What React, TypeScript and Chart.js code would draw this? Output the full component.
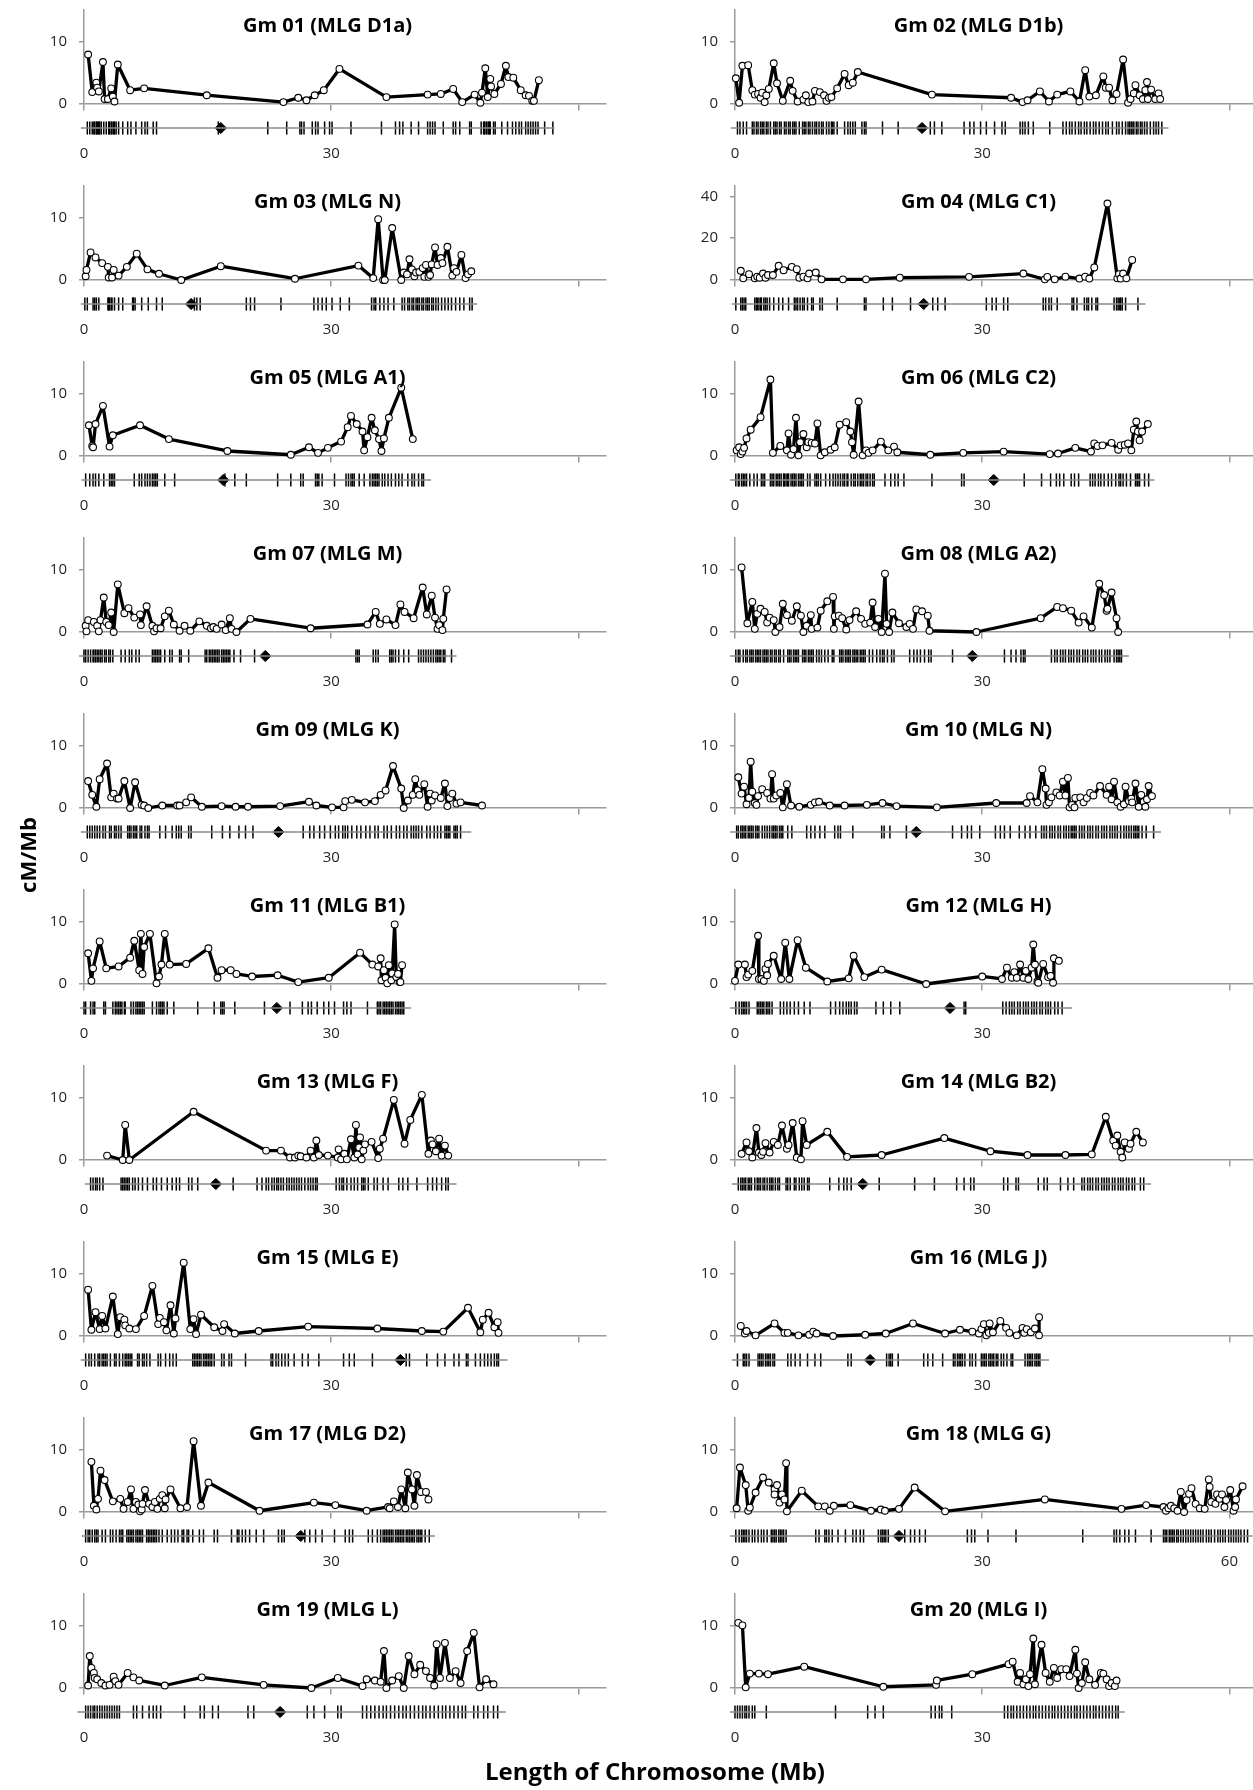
import React, { useEffect, useRef } from 'react';
import { Chart, registerables } from 'chart.js';

Chart.register(...registerables);

// ---------- shared axis values ----------
const X_MAX = 63.3;
const X_TICKS = [0, 30, 60];

// ---------- data: [position (Mb), recombination rate (cM/Mb)] and marker positions (Mb) ----------
const gm01Points = [[0.5,7.9],[1.0,1.9],[1.5,3.4],[1.6,2.6],[1.8,2.0],[2.3,6.7],[2.5,0.8],[2.9,0.8],[3.3,2.5],[3.5,1.2],[3.7,0.4],[4.1,6.3],[5.6,2.2],[7.3,2.5],[14.9,1.4],[24.2,0.3],[26.0,1.0],[27.0,0.6],[28.0,1.4],[29.1,2.2],[31.0,5.6],[36.7,1.1],[41.7,1.5],[43.3,1.6],[44.8,2.4],[45.9,0.3],[47.4,1.5],[48.1,0.2],[48.3,1.8],[48.7,5.7],[49.0,1.1],[49.3,4.0],[49.4,2.8],[49.8,1.6],[50.6,3.2],[51.2,6.1],[51.5,4.3],[52.1,4.2],[53.0,2.2],[53.6,1.4],[54.0,1.3],[54.4,0.5],[54.6,0.5],[55.2,3.8]];
const gm01Markers = [0.4,0.7,1.0,1.2,1.3,1.5,1.6,1.7,1.8,1.9,2.1,2.4,2.7,3.0,3.1,3.3,3.4,3.6,3.7,3.9,4.2,4.7,5.3,5.7,6.3,7.0,7.4,7.7,8.4,8.8,16.3,22.3,24.6,26.2,26.4,26.7,27.7,28.1,28.4,29.2,29.8,30.1,32.4,36.1,37.8,38.3,38.7,39.7,40.6,41.7,42.0,42.3,42.6,43.6,44.8,45.1,45.6,46.8,47.0,48.2,48.5,48.6,48.8,48.9,49.1,49.2,49.3,49.7,49.9,50.7,51.4,52.0,52.4,52.8,53.1,53.6,53.9,54.2,54.5,54.8,55.1,55.9,56.9];

const gm02Points = [[0.1,4.1],[0.5,0.2],[0.9,6.1],[1.6,6.2],[2.1,2.2],[2.4,1.5],[2.8,1.6],[3.1,1.0],[3.3,1.8],[3.6,0.3],[3.8,1.4],[4.1,2.4],[4.7,6.5],[5.1,3.3],[5.8,0.5],[6.7,3.7],[7.0,2.1],[7.6,0.4],[8.3,0.7],[8.6,1.4],[8.9,0.3],[9.4,0.4],[9.7,2.1],[10.3,1.9],[10.8,1.4],[11.1,0.5],[11.4,1.0],[11.7,1.1],[12.4,2.5],[13.3,4.8],[13.8,3.0],[14.3,3.4],[14.9,5.1],[23.9,1.5],[33.5,1.0],[34.9,0.3],[35.5,0.6],[37.0,2.0],[38.1,0.4],[39.1,1.5],[40.7,2.0],[41.8,0.4],[42.5,5.4],[43.0,1.2],[43.8,1.4],[44.7,4.4],[45.0,2.6],[45.4,2.6],[45.8,0.6],[46.3,1.6],[47.1,7.1],[47.7,0.2],[48.0,0.8],[48.4,1.7],[48.6,3.0],[49.1,1.4],[49.5,0.8],[49.8,2.2],[50.0,3.5],[50.1,0.8],[50.5,2.3],[51.0,0.8],[51.4,1.7],[51.6,0.8]];
const gm02Markers = [0.3,0.6,1.0,1.4,2.1,2.3,2.6,2.8,3.1,3.3,3.5,3.8,4.0,4.3,4.7,4.9,5.1,5.4,5.6,6.0,6.2,6.5,6.7,7.0,7.2,7.4,7.8,8.2,8.4,8.6,8.9,9.1,9.4,9.7,9.9,10.2,10.5,10.7,11.1,11.4,11.7,11.8,12.0,12.4,13.3,13.7,14.0,14.3,14.6,15.4,15.7,15.9,17.9,19.8,23.7,24.2,25.1,27.8,28.5,29.0,29.8,30.5,31.5,32.4,32.8,34.6,34.9,35.2,35.6,36.2,38.2,39.8,40.2,40.6,40.9,41.3,41.7,42.0,42.4,42.7,43.1,43.5,43.8,44.2,44.6,45.0,45.3,45.8,46.3,46.6,47.0,47.4,47.7,47.9,48.1,48.3,48.4,48.7,48.9,49.2,49.4,49.7,50.0,50.4,50.8,51.1,51.4,51.8];

const gm03Points = [[0.2,0.6],[0.3,1.6],[0.8,4.4],[1.4,3.6],[2.2,2.7],[2.9,2.1],[3.0,0.4],[3.4,0.4],[3.6,1.6],[4.2,0.7],[5.2,2.1],[6.4,4.2],[7.7,1.7],[9.1,1.0],[11.8,0.0],[16.6,2.2],[25.6,0.2],[33.3,2.3],[35.1,0.3],[35.7,9.7],[36.3,0.0],[36.5,0.0],[37.4,8.3],[38.5,0.0],[38.8,1.2],[39.2,0.9],[39.5,3.3],[39.8,1.7],[40.1,0.6],[40.3,1.2],[40.7,1.3],[41.1,1.9],[41.3,0.5],[41.5,2.4],[41.8,0.5],[42.0,0.8],[42.2,2.5],[42.6,5.2],[42.9,2.4],[43.3,3.5],[43.5,2.7],[44.1,5.3],[44.7,0.7],[44.9,1.9],[45.2,1.3],[45.8,4.0],[46.3,0.3],[46.6,0.9],[47.0,1.4]];
const gm03Markers = [0.1,0.4,1.1,1.3,1.5,1.8,2.9,3.0,3.1,3.3,3.4,3.7,4.2,4.7,5.9,6.0,6.2,7.0,7.8,8.8,9.5,13.4,13.7,14.1,19.7,20.2,20.7,23.9,27.9,28.4,28.9,29.4,30.1,31.1,32.2,34.9,35.2,35.4,35.9,36.4,36.9,37.6,38.6,38.9,39.3,39.5,39.8,40.0,40.3,40.5,40.7,41.0,41.2,41.5,41.7,41.9,42.2,42.4,42.7,43.0,43.4,43.8,44.2,44.6,45.1,45.6,46.1,46.8,47.1];

const gm04Points = [[0.7,4.4],[1.0,0.8],[1.7,2.8],[2.4,0.8],[2.7,1.6],[3.0,1.1],[3.4,3.1],[3.7,1.1],[4.0,2.4],[4.6,2.4],[5.3,6.8],[5.9,4.7],[6.9,6.3],[7.5,5.2],[7.8,1.1],[8.3,1.6],[8.8,0.8],[9.0,3.1],[9.8,3.6],[10.5,0.3],[13.1,0.3],[15.9,0.3],[20.0,1.1],[28.4,1.5],[35.0,3.1],[37.6,0.3],[37.9,1.5],[38.8,0.3],[40.1,1.6],[41.8,0.7],[42.5,1.6],[43.0,0.7],[43.6,6.0],[45.2,36.6],[46.4,0.8],[46.6,2.8],[46.8,0.7],[47.1,3.1],[47.5,0.8],[48.2,9.6]];
const gm04Markers = [0.1,0.7,0.9,1.1,1.3,2.4,2.6,2.7,2.9,3.1,3.2,3.5,3.7,3.9,4.2,4.7,5.3,5.8,6.5,7.2,7.4,7.6,7.9,8.2,8.4,8.8,9.3,9.5,10.3,10.6,12.4,15.7,15.9,18.0,19.1,21.3,24.0,24.6,25.5,30.5,31.2,31.7,32.6,33.1,37.4,37.7,38.1,38.4,39.1,40.9,41.1,41.5,42.4,42.7,42.9,43.3,43.8,44.0,46.0,46.3,46.5,46.7,46.8,47.0,47.4,48.9];

const gm05Points = [[0.6,4.9],[1.0,1.6],[1.1,1.4],[1.4,5.1],[2.3,8.0],[3.1,1.5],[3.5,3.3],[6.8,4.9],[10.3,2.7],[17.4,0.8],[25.1,0.2],[27.3,1.4],[28.4,0.5],[29.6,1.3],[31.2,2.3],[32.0,4.6],[32.4,6.4],[33.1,5.1],[33.8,3.9],[34.0,0.9],[34.4,3.0],[34.9,6.1],[35.3,4.1],[35.8,2.7],[36.1,0.8],[36.4,2.8],[37.0,6.1],[38.5,10.9],[39.9,2.7]];
const gm05Markers = [0.2,0.7,1.1,1.4,1.8,2.4,3.1,3.3,3.5,3.7,6.1,6.7,7.0,7.4,7.7,8.0,8.3,8.5,8.7,8.9,9.8,11.0,17.1,18.3,19.7,23.5,25.1,26.3,26.6,28.1,28.3,28.5,28.9,30.4,31.8,32.1,32.4,32.6,32.8,33.4,34.0,34.7,35.0,35.2,35.4,35.6,35.8,36.2,36.5,36.9,37.3,37.8,38.2,38.6,39.3,39.8,40.1,40.6,41.0,41.2];

const gm06Points = [[0.2,0.9],[0.5,1.4],[0.7,0.3],[0.9,0.7],[1.1,1.3],[1.4,2.8],[1.9,4.2],[3.1,6.2],[4.3,12.2],[4.6,0.5],[5.5,1.6],[6.3,0.9],[6.5,3.6],[6.8,0.2],[7.1,1.1],[7.4,6.1],[7.7,0.1],[7.9,2.2],[8.3,3.5],[8.7,1.4],[8.9,2.2],[9.3,2.1],[9.7,2.0],[10.0,5.2],[10.4,0.1],[10.9,0.6],[11.6,1.0],[12.1,1.4],[12.7,5.0],[13.5,5.4],[14.0,3.9],[14.2,2.2],[14.4,0.2],[15.0,8.7],[15.5,0.1],[15.9,0.9],[16.2,0.5],[16.7,0.9],[17.7,2.3],[18.6,0.9],[19.3,1.5],[19.7,0.6],[23.7,0.2],[27.7,0.5],[32.6,0.7],[38.2,0.3],[39.2,0.4],[41.3,1.3],[43.2,0.7],[43.6,2.0],[44.0,1.6],[44.6,1.7],[45.7,2.1],[46.5,1.0],[46.8,1.7],[47.3,1.8],[47.7,2.0],[48.1,0.9],[48.4,4.2],[48.7,5.5],[48.9,3.9],[49.1,2.5],[49.4,3.9],[50.1,5.1]];
const gm06Markers = [0.1,0.4,0.5,0.8,1.0,1.2,1.4,1.8,2.3,2.7,3.2,3.4,3.6,4.3,4.5,4.7,5.0,5.2,5.4,5.6,5.9,6.0,6.2,6.4,6.5,6.8,7.0,7.2,7.4,7.7,7.9,8.1,8.3,8.8,9.1,9.7,9.9,10.1,10.4,11.0,11.5,11.9,12.2,12.5,12.8,13.1,13.3,13.6,13.7,14.1,14.4,14.6,14.9,15.2,15.4,15.6,15.9,16.1,16.4,16.7,16.9,18.2,18.9,19.4,19.8,20.5,23.9,27.5,27.8,35.1,37.2,38.3,39.0,39.4,39.9,40.8,41.2,41.7,43.1,43.4,43.7,44.1,44.4,44.8,45.3,45.7,46.2,46.6,46.8,47.1,47.5,48.0,48.6,48.8,48.9,49.1,49.7,50.2];

const gm07Points = [[0.2,1.0],[0.3,0.1],[0.5,1.9],[1.2,1.6],[1.6,1.0],[1.8,0.1],[2.0,1.9],[2.4,5.5],[2.7,1.6],[3.0,1.1],[3.3,3.1],[3.6,0.0],[4.1,7.6],[4.9,3.0],[5.4,3.8],[6.1,2.3],[6.8,2.8],[6.9,1.1],[7.6,4.1],[8.3,1.0],[8.5,0.1],[8.8,0.6],[9.3,0.6],[9.8,2.5],[10.3,3.4],[10.9,1.2],[11.6,0.2],[12.2,1.0],[12.9,0.2],[14.0,1.7],[14.9,1.0],[15.4,0.6],[15.7,0.8],[16.1,0.5],[16.7,1.2],[17.2,0.3],[17.7,2.2],[17.9,0.5],[18.5,0.0],[20.2,2.1],[27.5,0.6],[34.4,1.2],[35.4,3.2],[35.9,1.3],[36.7,2.0],[37.8,1.1],[38.4,4.4],[38.9,3.2],[40.0,2.2],[41.1,7.1],[41.6,2.8],[42.2,5.8],[42.6,2.3],[42.9,0.5],[43.1,1.1],[43.5,0.3],[43.6,2.1],[44.0,6.8]];
const gm07Markers = [0.0,0.2,0.5,0.8,1.1,1.2,1.4,1.6,1.8,2.0,2.2,2.5,2.7,3.0,3.2,3.5,4.5,5.0,5.5,5.8,6.3,6.7,8.3,8.5,8.7,8.9,9.1,9.3,9.8,10.4,10.7,11.6,11.8,12.7,14.7,14.9,15.2,15.4,15.6,15.8,16.0,16.2,16.4,16.7,16.9,17.1,17.3,17.5,17.7,18.2,19.0,20.7,33.0,33.2,33.4,35.1,35.4,35.7,37.1,37.3,37.5,37.8,38.2,38.8,39.4,40.6,40.9,41.2,41.5,41.8,42.1,42.4,42.7,42.9,43.1,43.3,43.6,43.8,44.6];

const gm08Points = [[0.8,10.3],[1.5,1.4],[2.1,4.8],[2.4,0.5],[2.7,2.9],[3.1,3.7],[3.6,3.2],[3.9,1.5],[4.2,2.3],[4.7,1.9],[4.9,0.0],[5.4,0.8],[5.8,4.5],[6.3,2.7],[6.9,1.8],[7.5,4.1],[8.0,2.6],[8.3,0.0],[8.7,1.0],[9.2,2.7],[9.3,0.5],[10.0,0.7],[10.4,3.4],[11.2,4.9],[11.9,5.6],[12.0,0.5],[12.1,2.5],[12.6,2.6],[13.0,2.2],[13.5,0.4],[13.9,1.9],[14.7,3.3],[15.3,2.1],[15.8,1.3],[16.4,1.5],[16.7,4.7],[17.0,0.8],[17.4,2.1],[17.8,0.0],[18.2,9.3],[18.4,1.3],[18.7,0.0],[19.1,3.1],[19.9,1.4],[20.8,0.8],[21.2,1.3],[21.6,0.5],[22.0,3.6],[22.7,3.3],[23.4,2.6],[23.6,0.2],[29.3,0.0],[37.1,2.2],[39.1,4.0],[39.8,3.8],[40.8,3.4],[41.7,1.5],[42.3,2.5],[43.3,0.7],[44.2,7.7],[44.8,5.9],[45.1,3.4],[45.2,3.7],[45.7,6.3],[46.3,2.2],[46.5,0.0]];
const gm08Markers = [0.1,0.4,0.6,1.0,1.3,1.5,1.8,2.0,2.2,2.5,2.7,2.9,3.1,3.4,3.6,3.8,4.0,4.3,4.5,4.8,5.0,5.3,5.5,5.9,6.4,6.6,6.8,7.1,7.3,7.5,7.7,8.2,8.4,8.6,8.9,9.1,9.3,9.5,9.9,10.2,10.5,10.9,11.3,11.8,12.0,12.7,12.9,13.1,13.4,13.6,13.8,14.0,14.3,14.5,14.7,14.9,15.2,15.4,15.6,15.8,16.3,16.7,17.2,17.6,17.9,18.1,18.5,19.0,19.3,21.2,21.7,22.1,22.5,23.0,23.5,23.8,26.4,32.7,33.5,34.1,34.7,35.0,35.2,38.4,38.8,39.1,39.5,39.8,40.1,40.5,40.8,41.1,41.5,41.8,42.2,42.5,42.8,43.2,43.5,43.8,44.2,44.5,44.9,45.2,45.5,46.0,46.3,46.5,46.7,46.9];

const gm09Points = [[0.5,4.3],[1.0,2.1],[1.5,0.2],[1.9,4.6],[2.8,7.1],[3.3,1.7],[3.6,2.3],[4.0,1.5],[4.2,1.5],[4.9,4.3],[5.6,0.0],[6.2,4.1],[7.0,0.5],[7.3,0.4],[7.8,0.0],[9.5,0.4],[11.3,0.4],[11.6,0.4],[12.4,0.9],[13.0,1.7],[14.3,0.2],[16.7,0.3],[18.4,0.2],[19.9,0.2],[23.8,0.3],[27.3,1.0],[28.2,0.4],[30.1,0.1],[31.5,0.1],[31.7,1.1],[32.5,1.3],[34.1,0.9],[35.3,1.1],[36.0,2.1],[36.6,2.8],[37.5,6.7],[38.5,3.1],[38.8,0.0],[39.3,1.2],[39.9,2.1],[40.2,4.6],[40.5,2.8],[40.7,2.1],[41.3,3.8],[41.7,0.2],[42.0,2.3],[42.2,1.2],[42.6,2.0],[43.3,1.6],[43.8,3.9],[44.1,0.3],[44.4,1.6],[44.7,2.3],[45.2,0.7],[45.7,0.9],[48.3,0.4]];
const gm09Markers = [0.4,0.7,1.0,1.3,1.6,1.9,2.3,2.6,3.1,3.3,3.7,3.9,4.2,4.5,5.3,5.5,5.7,6.0,6.2,6.4,6.8,7.0,7.4,7.7,7.9,9.2,9.9,10.7,11.2,11.5,11.8,12.7,13.0,15.5,16.8,17.7,18.8,19.6,20.5,26.6,27.4,27.9,28.6,29.2,29.9,30.5,30.9,31.4,31.7,32.0,32.5,33.1,33.6,34.2,34.7,35.3,35.7,36.4,36.8,37.3,37.9,38.3,38.8,39.2,39.7,40.0,40.3,40.6,41.0,41.6,42.0,42.5,42.9,43.3,43.8,44.0,44.2,44.4,44.9,45.1,45.3,45.7];

const gm10Points = [[0.4,4.9],[0.8,2.3],[1.1,3.4],[1.4,0.6],[1.7,1.6],[1.9,7.4],[2.1,2.6],[2.4,0.8],[2.6,0.5],[2.8,1.9],[3.3,3.0],[3.9,2.4],[4.3,1.5],[4.5,5.4],[4.7,1.5],[5.0,2.0],[5.5,2.4],[5.8,0.1],[6.3,3.8],[6.8,0.4],[7.8,0.2],[9.2,0.5],[9.7,0.9],[10.2,1.0],[11.5,0.4],[13.3,0.4],[16.0,0.5],[17.9,0.8],[19.6,0.3],[24.5,0.1],[31.7,0.8],[35.4,0.8],[35.8,1.9],[36.7,0.9],[37.3,6.2],[37.7,3.1],[37.8,0.5],[38.1,0.9],[38.4,1.7],[39.0,2.5],[39.4,2.0],[39.8,4.2],[40.1,2.0],[40.4,4.8],[40.6,0.1],[40.9,0.5],[41.2,0.1],[41.3,1.6],[41.9,1.7],[42.3,0.9],[42.7,1.6],[43.1,2.4],[43.5,2.0],[44.3,3.5],[45.1,2.1],[45.4,3.4],[45.7,1.4],[46.0,4.2],[46.4,0.9],[46.8,0.2],[47.2,0.6],[47.4,3.4],[47.8,1.1],[48.1,1.5],[48.2,0.9],[48.6,3.9],[49.0,0.2],[49.3,2.1],[49.6,1.0],[49.8,0.2],[50.0,1.4],[50.2,3.5],[50.6,1.9]];
const gm10Markers = [0.2,0.4,0.7,0.9,1.1,1.3,1.6,1.8,2.0,2.2,2.5,2.7,2.9,3.3,3.6,3.9,4.2,4.5,4.7,4.9,5.1,5.4,5.6,5.8,6.4,6.9,8.7,9.2,9.7,10.3,10.9,12.1,12.5,12.8,14.3,17.8,18.1,18.8,20.8,26.4,27.5,28.2,28.7,29.7,31.6,32.2,32.7,33.4,34.5,35.2,35.8,36.5,37.2,37.5,37.8,38.2,38.5,38.8,39.2,39.5,39.9,40.2,40.5,40.8,41.0,41.2,41.4,41.8,42.1,42.4,42.8,43.1,43.4,43.8,44.1,44.5,44.8,45.1,45.5,45.8,46.1,46.4,46.8,47.2,47.5,47.8,48.1,48.4,48.6,48.8,49.0,49.4,49.9,50.8];

const gm11Points = [[0.5,4.9],[0.9,0.5],[1.1,2.5],[1.9,6.8],[2.7,2.5],[4.2,2.8],[5.6,4.2],[6.1,6.9],[6.7,2.2],[6.9,8.0],[7.1,1.6],[7.3,5.9],[8.0,8.0],[8.8,0.1],[9.1,1.2],[9.4,3.1],[9.8,8.0],[10.4,3.1],[12.4,3.2],[15.1,5.7],[16.2,1.0],[16.7,2.2],[17.8,2.2],[18.5,1.6],[20.4,1.2],[23.5,1.4],[26.0,0.3],[29.7,1.0],[33.5,5.0],[35.0,3.1],[35.7,2.8],[36.0,4.1],[36.1,0.6],[36.4,2.2],[36.6,1.0],[36.8,0.1],[37.0,3.0],[37.3,0.6],[37.4,1.7],[37.7,9.5],[37.9,1.1],[38.1,1.6],[38.3,0.3],[38.4,0.3],[38.6,3.0]];
const gm11Markers = [0.0,0.2,0.8,1.1,1.3,2.4,2.6,3.5,3.8,4.0,4.2,4.4,4.6,4.9,5.0,5.7,6.0,6.3,6.5,6.7,6.9,7.1,7.3,8.3,8.8,9.1,9.3,9.5,9.7,10.1,10.9,13.8,15.8,16.6,16.8,17.0,18.3,21.9,25.0,26.5,27.2,27.6,28.3,29.1,29.7,30.4,31.5,31.9,32.4,34.4,35.6,35.8,36.0,36.3,36.5,36.7,36.9,37.1,37.3,37.5,37.8,38.0,38.2,38.4,38.6,38.8];

const gm12Points = [[0.0,0.5],[0.4,3.1],[1.2,3.1],[1.4,1.1],[1.6,1.5],[2.1,2.1],[2.8,7.7],[2.9,0.8],[3.2,0.8],[3.5,0.5],[3.7,2.4],[3.9,1.4],[4.0,3.2],[4.7,4.5],[5.6,0.8],[6.1,6.6],[6.6,0.8],[7.6,7.0],[8.6,2.6],[11.2,0.4],[13.8,0.9],[14.4,4.5],[15.7,1.1],[17.8,2.3],[23.2,0.0],[30.0,1.2],[32.4,0.8],[33.0,2.6],[33.6,1.0],[33.9,1.9],[34.2,1.0],[34.6,3.1],[35.0,1.0],[35.3,2.1],[35.6,0.8],[36.0,2.6],[36.2,6.3],[36.4,3.1],[36.7,0.4],[36.8,0.2],[37.4,3.2],[38.0,1.1],[38.3,1.3],[38.6,0.2],[38.7,4.1],[39.3,3.7]];
const gm12Markers = [0.1,0.5,0.8,1.0,1.2,1.4,1.7,2.7,2.9,3.1,3.3,3.5,3.8,4.0,4.2,4.5,5.5,5.9,6.3,6.7,7.2,7.7,8.4,9.1,11.6,12.2,12.7,13.1,13.5,13.8,14.1,14.5,14.8,17.1,18.0,18.9,20.0,27.8,28.0,32.5,32.9,33.3,33.6,33.9,34.3,34.6,35.0,35.3,35.6,36.0,36.3,36.6,37.0,37.3,37.7,38.0,38.3,38.8,39.2,39.7];

const gm13Points = [[2.8,0.7],[4.7,0.0],[5.0,5.6],[5.5,0.0],[13.3,7.7],[22.1,1.5],[23.9,1.5],[25.0,0.4],[25.6,0.4],[26.0,0.7],[26.3,0.6],[27.0,0.4],[27.5,1.5],[27.9,0.4],[28.2,3.1],[28.5,0.8],[29.6,0.7],[30.8,0.4],[30.9,1.7],[31.2,0.1],[31.6,1.0],[31.9,0.1],[32.4,3.3],[32.8,0.4],[33.0,5.6],[33.2,0.9],[33.4,2.0],[33.5,3.6],[33.7,0.1],[33.9,1.5],[34.1,2.5],[34.9,2.9],[35.7,0.3],[35.9,1.8],[36.3,3.4],[37.6,9.6],[38.9,2.6],[39.6,6.4],[41.0,10.4],[41.8,1.0],[42.1,3.1],[42.3,2.5],[42.7,1.4],[43.1,3.4],[43.4,0.7],[43.8,2.3],[44.2,0.7]];
const gm13Markers = [0.8,1.1,1.4,1.6,1.9,2.3,4.5,4.7,4.9,5.1,5.3,5.5,5.9,6.2,6.6,7.1,7.7,8.4,8.8,9.4,10.1,10.7,11.2,11.6,12.7,13.1,13.8,18.1,21.0,21.6,22.1,22.4,22.8,23.1,23.4,23.6,23.9,24.2,24.6,24.9,25.2,25.5,25.8,26.1,26.4,26.8,27.2,27.5,27.8,28.1,28.3,30.6,31.0,31.3,31.5,31.9,32.4,32.8,33.2,33.7,33.9,34.1,34.5,35.2,35.6,36.3,36.9,38.2,38.7,39.3,40.4,41.7,42.3,42.8,43.4,43.9,44.2];

const gm14Points = [[0.8,1.0],[1.4,2.8],[1.7,1.4],[2.1,0.4],[2.6,5.1],[2.9,1.2],[3.2,0.8],[3.4,1.3],[3.7,2.7],[4.2,1.2],[4.7,2.9],[5.2,2.4],[5.7,5.5],[6.3,1.8],[6.5,2.4],[7.0,5.9],[7.5,0.4],[8.0,0.1],[8.2,6.2],[8.7,2.4],[11.2,4.5],[13.6,0.5],[17.8,0.8],[25.4,3.5],[31.0,1.4],[35.5,0.8],[40.1,0.8],[43.3,0.9],[45.0,6.9],[45.9,3.1],[46.2,2.3],[46.4,3.9],[46.8,1.3],[47.0,0.4],[47.3,2.8],[47.8,1.8],[48.0,2.6],[48.7,4.5],[49.5,2.8]];
const gm14Markers = [0.4,0.7,0.9,1.1,1.3,1.6,1.8,2.0,2.4,2.7,2.9,3.1,3.4,3.6,3.9,4.2,4.4,4.6,4.9,5.2,5.4,6.2,6.4,6.7,7.2,7.4,7.8,8.1,8.4,8.8,9.0,11.5,12.6,13.2,13.6,14.1,17.5,21.8,24.2,26.9,27.8,28.6,29.0,32.6,33.1,34.1,34.4,36.8,37.5,37.9,39.5,40.4,41.1,42.1,42.4,42.8,43.1,43.4,43.8,44.1,44.5,44.8,45.1,45.4,45.8,46.1,46.5,46.8,47.1,47.5,47.8,48.2,48.5,49.2,49.6];

const gm15Points = [[0.5,7.4],[0.9,1.0],[1.4,3.8],[1.9,1.1],[2.2,3.2],[2.6,1.2],[3.5,6.3],[4.1,0.3],[4.4,3.0],[4.9,2.6],[5.0,1.7],[5.5,1.2],[6.3,1.1],[7.3,3.2],[8.3,8.0],[9.0,1.9],[9.2,2.9],[9.7,2.2],[10.0,0.9],[10.5,4.9],[10.9,0.4],[11.1,2.8],[12.1,11.7],[12.9,1.1],[13.3,2.7],[13.6,0.3],[14.2,3.4],[15.8,1.4],[16.8,0.8],[17.0,1.9],[18.3,0.4],[21.2,0.8],[27.2,1.5],[35.6,1.2],[41.0,0.8],[43.6,0.7],[46.6,4.5],[48.1,0.6],[48.4,2.6],[49.1,3.7],[49.8,1.4],[50.2,2.2],[50.3,0.5]];
const gm15Markers = [0.2,0.6,0.9,1.3,1.7,1.9,2.2,2.4,2.6,2.8,3.2,3.7,3.9,4.3,4.7,5.0,5.2,5.4,5.6,5.8,6.5,6.7,7.1,7.3,7.6,8.0,9.0,9.3,9.9,10.4,10.8,11.2,13.2,13.4,13.6,13.8,14.0,14.2,14.5,14.7,14.9,15.1,15.3,15.5,15.8,16.7,17.0,17.6,17.9,19.6,22.7,22.9,23.3,23.6,24.0,24.4,24.8,25.5,26.5,27.2,28.5,31.5,32.2,32.8,35.0,39.1,39.5,41.6,42.9,43.8,44.9,45.5,46.4,46.6,47.5,48.1,48.6,49.0,49.4,49.8,50.1,50.3];

const gm16Points = [[0.7,1.6],[1.2,0.4],[1.4,0.8],[2.5,0.1],[4.8,2.0],[6.0,0.5],[6.4,0.5],[7.7,0.1],[9.0,0.2],[9.5,0.7],[9.9,0.4],[11.9,0.0],[15.8,0.2],[18.3,0.4],[21.6,2.0],[25.5,0.4],[27.3,1.0],[28.8,0.7],[29.6,0.4],[29.9,1.1],[30.2,1.9],[30.5,0.1],[30.8,0.5],[30.9,2.0],[31.3,0.6],[32.2,2.4],[32.9,1.3],[33.3,0.5],[34.2,0.1],[34.9,1.3],[35.1,0.5],[35.4,1.1],[35.9,0.6],[36.4,1.2],[36.9,0.1],[36.9,3.0]];
const gm16Markers = [0.3,1.0,1.2,1.4,1.7,2.8,3.0,3.2,3.4,3.7,3.9,4.1,4.3,4.6,4.8,6.4,6.8,7.3,7.9,8.8,9.7,10.4,13.7,14.1,18.4,18.7,18.9,19.1,19.8,22.9,23.4,24.0,25.2,26.5,26.7,27.0,27.2,27.4,27.6,27.9,28.5,28.8,29.2,29.9,30.1,30.3,30.5,30.8,31.0,31.2,31.4,31.7,31.9,32.3,32.6,33.0,33.5,33.7,35.2,35.5,35.7,35.9,36.1,36.4,36.6,36.8,37.0];

const gm17Points = [[0.9,8.0],[1.2,1.0],[1.5,0.4],[1.7,2.1],[2.0,6.6],[2.5,5.1],[3.5,1.7],[4.4,2.1],[4.8,0.5],[5.3,1.6],[5.7,3.6],[6.0,0.5],[6.3,1.6],[6.6,1.2],[6.8,0.1],[7.0,0.4],[7.1,1.3],[7.4,3.5],[7.9,1.3],[8.3,0.8],[8.6,1.6],[8.9,0.5],[9.2,2.1],[9.5,2.7],[9.8,0.6],[9.9,2.0],[10.5,3.6],[11.7,0.6],[12.5,0.8],[13.3,11.3],[14.2,1.0],[15.1,4.7],[21.3,0.2],[27.9,1.5],[30.5,1.1],[34.3,0.2],[36.9,0.8],[37.1,0.6],[37.6,1.7],[38.1,0.8],[38.5,3.6],[39.0,0.6],[39.3,6.3],[39.8,3.6],[40.1,1.0],[40.4,5.9],[40.9,3.2],[41.5,3.2],[41.8,2.0]];
const gm17Markers = [0.2,0.5,0.7,1.0,1.3,1.5,1.7,2.2,2.6,3.2,3.5,3.9,4.3,4.5,4.7,5.2,5.4,5.6,5.8,6.0,6.3,6.5,6.7,6.9,7.1,7.6,7.8,8.0,8.2,8.4,8.6,8.8,9.1,9.5,10.1,10.6,11.0,11.4,11.9,12.1,12.5,12.7,13.2,14.0,14.5,15.8,16.2,17.9,18.6,18.8,19.2,19.6,20.1,20.9,21.8,23.6,24.0,24.3,26.8,27.4,28.1,28.9,30.4,31.7,32.2,32.6,34.5,35.0,35.6,36.0,36.3,36.5,36.7,36.9,37.1,37.3,37.5,37.8,38.0,38.2,38.4,38.6,38.8,39.1,39.3,39.5,39.7,39.9,40.1,40.4,40.6,40.8,41.0,41.4,41.9];

const gm18Points = [[0.2,0.6],[0.6,7.1],[1.3,4.3],[1.6,0.2],[1.8,0.7],[2.5,3.1],[3.4,5.5],[4.1,4.7],[4.8,3.6],[4.8,2.8],[5.1,4.3],[5.4,1.5],[5.7,2.8],[6.0,2.0],[6.2,7.8],[6.3,0.1],[8.1,3.4],[10.1,0.9],[10.9,0.9],[11.5,0.2],[12.0,1.0],[14.0,1.1],[16.5,0.2],[17.7,0.4],[18.2,0.2],[19.9,0.5],[21.8,3.9],[25.5,0.1],[37.6,2.0],[46.9,0.5],[49.9,1.1],[52.0,0.8],[52.3,0.2],[52.6,0.6],[52.9,1.0],[53.3,0.6],[53.7,0.2],[54.1,3.2],[54.5,0.0],[54.8,1.9],[55.1,2.9],[55.4,3.8],[55.9,1.3],[56.4,0.6],[57.0,0.5],[57.5,5.2],[57.6,4.0],[57.8,1.6],[58.3,1.3],[58.5,2.8],[58.8,2.1],[59.1,2.8],[59.4,0.8],[59.6,1.9],[60.1,3.5],[60.5,0.2],[60.7,0.8],[60.8,2.0],[61.6,4.1]];
const gm18Markers = [0.1,0.5,0.8,1.0,1.2,1.4,1.7,2.1,2.4,2.8,3.2,3.5,3.9,4.4,4.6,4.8,5.0,5.3,5.5,5.7,5.9,6.2,9.8,10.2,10.9,11.1,11.4,11.8,12.5,13.4,14.3,14.7,15.2,15.6,17.4,17.7,17.9,18.1,18.3,18.6,20.6,21.3,21.8,22.4,23.1,28.2,28.7,29.1,30.7,34.1,42.2,46.0,46.3,46.7,47.3,47.8,48.6,50.5,52.0,52.2,52.4,52.7,52.9,53.1,53.3,53.6,53.8,54.1,54.4,54.7,55.0,55.3,55.6,55.9,56.2,56.5,56.8,57.2,57.5,57.8,58.2,58.6,58.9,59.2,59.5,59.9,60.2,60.5,60.8,61.1,61.4,61.8,62.2];

const gm19Points = [[0.5,0.4],[0.7,5.1],[0.9,3.2],[1.2,2.4],[1.3,1.6],[1.6,1.4],[2.1,0.8],[2.6,0.4],[3.1,0.5],[3.6,1.8],[3.8,1.1],[4.2,0.5],[5.3,2.4],[6.0,1.7],[6.7,1.2],[9.8,0.4],[14.3,1.7],[21.8,0.5],[27.6,0.0],[30.8,1.6],[33.8,0.3],[34.3,1.4],[35.3,1.2],[36.0,1.0],[36.4,5.9],[36.7,0.0],[37.4,1.2],[38.2,1.9],[38.8,0.0],[39.4,5.1],[40.1,2.2],[40.8,3.7],[41.5,2.7],[42.0,1.6],[42.5,0.4],[42.8,7.0],[43.2,1.6],[43.8,7.2],[44.4,1.6],[45.1,2.7],[45.7,0.8],[46.5,5.9],[47.3,8.8],[48.0,0.1],[48.8,1.4],[49.7,0.6]];
const gm19Markers = [0.2,0.5,0.8,1.1,1.3,1.6,1.9,2.2,2.5,2.8,3.1,3.4,3.7,4.0,4.3,6.0,6.4,7.1,7.9,8.4,8.8,9.3,12.2,14.1,14.6,15.6,16.3,19.9,20.6,27.1,27.9,29.2,30.8,31.2,33.8,34.3,34.8,35.3,35.8,36.3,36.7,37.2,37.7,38.2,38.7,39.1,39.6,40.1,40.6,41.1,41.5,42.0,42.5,43.0,43.5,43.9,44.4,44.9,45.4,45.9,46.3,47.3,47.8,48.5,49.0,49.7,50.2];

const gm20Points = [[0.4,10.4],[0.9,10.0],[1.3,0.1],[1.8,2.3],[2.9,2.3],[4.0,2.2],[8.4,3.4],[18.0,0.2],[24.4,0.5],[24.5,1.2],[28.8,2.2],[33.2,3.8],[33.7,4.2],[34.3,1.0],[34.6,2.4],[35.0,0.6],[35.3,1.4],[35.6,0.3],[35.8,2.2],[36.2,7.9],[36.4,0.6],[37.2,6.9],[37.7,2.4],[38.2,1.0],[38.7,3.2],[39.1,1.6],[39.6,3.0],[40.2,3.0],[40.6,1.9],[41.3,6.1],[41.5,2.3],[41.7,0.0],[42.1,0.8],[42.5,4.1],[43.0,1.4],[43.7,0.5],[44.4,2.4],[44.7,2.3],[45.1,1.4],[45.4,0.3],[45.7,0.8],[46.1,0.3],[46.3,1.2]];
const gm20Markers = [0.0,0.3,0.6,0.9,1.2,1.4,1.7,2.1,2.4,3.8,12.2,16.1,17.0,18.0,23.8,24.3,24.8,25.1,26.3,32.7,33.1,33.5,33.8,34.2,34.6,35.0,35.4,35.8,36.2,36.5,36.9,37.3,37.7,38.1,38.5,38.8,39.2,39.6,40.0,40.4,40.8,41.2,41.5,41.9,42.3,42.7,43.1,43.5,43.8,44.2,44.6,45.0,45.4,45.8,46.2,46.5];

// ---------- per-chromosome scalar values ----------
const titles = ['Gm 01 (MLG D1a)','Gm 02 (MLG D1b)','Gm 03 (MLG N)','Gm 04 (MLG C1)','Gm 05 (MLG A1)','Gm 06 (MLG C2)','Gm 07 (MLG M)','Gm 08 (MLG A2)','Gm 09 (MLG K)','Gm 10 (MLG N)','Gm 11 (MLG B1)','Gm 12 (MLG H)','Gm 13 (MLG F)','Gm 14 (MLG B2)','Gm 15 (MLG E)','Gm 16 (MLG J)','Gm 17 (MLG D2)','Gm 18 (MLG G)','Gm 19 (MLG L)','Gm 20 (MLG I)'];
const centromeres = [16.6, 22.7, 13.0, 22.9, 16.9, 31.4, 22.0, 28.8, 23.6, 22.0, 23.4, 26.1, 16.0, 15.5, 38.4, 16.4, 26.3, 19.9, 23.8, null];
const trackStarts = [-0.4, -0.5, -0.4, -0.4, -0.3, -0.6, -0.6, -0.6, -0.4, -0.6, -0.5, -0.6, 0.1, -0.4, -0.4, -0.4, -0.3, -0.6, -0.8, -0.6];
const trackEnds = [57.1, 52.6, 47.7, 49.8, 42.1, 50.9, 45.2, 47.8, 47.0, 51.7, 39.7, 40.9, 45.2, 50.5, 51.4, 38.1, 42.6, 62.8, 51.2, 47.3];
const yMaxes = [15, 15, 15, 45, 15, 15, 15, 15, 15, 15, 15, 15, 15, 15, 15, 15, 15, 15, 15, 15];
const yTickSets = [[0,10],[0,10],[0,10],[0,20,40],[0,10],[0,10],[0,10],[0,10],[0,10],[0,10],[0,10],[0,10],[0,10],[0,10],[0,10],[0,10],[0,10],[0,10],[0,10],[0,10]];
const pointSets = [gm01Points, gm02Points, gm03Points, gm04Points, gm05Points, gm06Points, gm07Points, gm08Points, gm09Points, gm10Points, gm11Points, gm12Points, gm13Points, gm14Points, gm15Points, gm16Points, gm17Points, gm18Points, gm19Points, gm20Points];
const markerSets = [gm01Markers, gm02Markers, gm03Markers, gm04Markers, gm05Markers, gm06Markers, gm07Markers, gm08Markers, gm09Markers, gm10Markers, gm11Markers, gm12Markers, gm13Markers, gm14Markers, gm15Markers, gm16Markers, gm17Markers, gm18Markers, gm19Markers, gm20Markers];
const show60Label = [false,false,false,false,false,false,false,false,false,false,false,false,false,false,false,false,false,true,false,false];

// ---------- layout ----------
const ROW_H = 176;
const CANVAS_W = 575;
const COL_LEFT = [40, 691];
const AXIS_GREY = '#9a9a9a';
const TEXT_COL = '#262626';
const FONT = '"Open Sans", "Liberation Sans", sans-serif';

function Panel({ idx }: { idx: number }) {
  const ref = useRef<HTMLCanvasElement | null>(null);
  const col = idx % 2;
  const row = Math.floor(idx / 2);

  useEffect(() => {
    const canvas = ref.current;
    if (!canvas) return;
    const pts = pointSets[idx];
    const cen = centromeres[idx];
    const yTicks = yTickSets[idx];
    const show60 = show60Label[idx];
    const chart = new Chart(canvas, {
      type: 'line',
      data: {
        datasets: [
          {
            label: 'cM/Mb',
            data: pts.map(([x, y]) => ({ x, y })),
            xAxisID: 'x',
            yAxisID: 'y',
            borderColor: '#000',
            borderWidth: 3.3,
            borderJoinStyle: 'round',
            borderCapStyle: 'round',
            pointRadius: 3.4,
            pointBackgroundColor: '#fff',
            pointBorderColor: '#000',
            pointBorderWidth: 1.1,
            tension: 0,
            clip: false,
          } as any,
          {
            label: 'chromosome',
            data: [{ x: trackStarts[idx], y: 0 }, { x: trackEnds[idx], y: 0 }],
            xAxisID: 'x',
            yAxisID: 'y2',
            borderColor: '#8a8a8a',
            borderWidth: 1.5,
            pointRadius: 0,
            clip: false,
          } as any,
          {
            label: 'markers',
            data: markerSets[idx].map((m) => ({ x: m, y: 0 })),
            xAxisID: 'x',
            yAxisID: 'y2',
            showLine: false,
            pointStyle: 'line',
            pointRotation: 90,
            pointRadius: 6.6,
            pointBorderColor: '#000',
            pointBorderWidth: 1.5,
            clip: false,
          } as any,
          {
            label: 'centromere',
            data: cen === null ? [] : [{ x: cen, y: 0 }],
            xAxisID: 'x',
            yAxisID: 'y2',
            showLine: false,
            pointStyle: 'rectRot',
            pointRadius: 5.6,
            pointBackgroundColor: '#000',
            pointBorderColor: '#000',
            pointBorderWidth: 1,
            clip: false,
          } as any,
        ],
      },
      options: {
        responsive: false,
        animation: false,
        events: [],
        layout: { padding: { left: 0, right: 9.4, top: 10, bottom: 10 } },
        plugins: { legend: { display: false }, tooltip: { enabled: false }, title: { display: false } },
        scales: {
          x: {
            type: 'linear',
            position: { y: 0 } as any,
            min: 0,
            max: X_MAX,
            afterBuildTicks: (s: any) => { s.ticks = X_TICKS.map((v) => ({ value: v })); },
            grid: { drawOnChartArea: false, drawTicks: true, tickLength: 6, color: AXIS_GREY, lineWidth: 1.5 },
            border: { display: true, color: AXIS_GREY, width: 1.5 },
            ticks: { display: false },
          },
          x2: {
            type: 'linear',
            axis: 'x',
            position: 'bottom',
            min: 0,
            max: X_MAX,
            afterBuildTicks: (s: any) => { s.ticks = X_TICKS.map((v) => ({ value: v })); },
            grid: { display: false, drawTicks: false },
            border: { display: false },
            ticks: {
              autoSkip: false,
              maxRotation: 0,
              padding: 5,
              color: TEXT_COL,
              font: { family: FONT, size: 15 },
              callback: (v: any) => (v === 60 && !show60 ? '' : String(v)),
            },
            afterFit: (s: any) => { s.height = 26; },
          } as any,
          y: {
            type: 'linear',
            position: 'left',
            stack: 'panel',
            stackWeight: 94,
            weight: 1,
            min: 0,
            max: yMaxes[idx],
            afterBuildTicks: (s: any) => { s.ticks = yTicks.map((v) => ({ value: v })); },
            grid: { drawOnChartArea: false, drawTicks: true, tickLength: 5, color: AXIS_GREY, lineWidth: 1.5 },
            border: { display: true, color: AXIS_GREY, width: 1.5 },
            ticks: { padding: 12, color: TEXT_COL, font: { family: FONT, size: 15 } },
            afterFit: (s: any) => { s.width = 44; s.paddingTop = 0; s.paddingBottom = 0; },
          } as any,
          y2: {
            type: 'linear',
            position: 'left',
            stack: 'panel',
            stackWeight: 36,
            weight: 0,
            min: -1,
            max: 2,
            grid: { display: false, drawTicks: false },
            border: { display: false },
            ticks: { display: false },
            afterFit: (s: any) => { s.width = 44; s.paddingTop = 0; s.paddingBottom = 0; },
          } as any,
        },
      } as any,
    });
    return () => chart.destroy();
  }, [idx]);

  return (
    <>
      <canvas
        ref={ref}
        width={CANVAS_W}
        height={ROW_H}
        style={{ position: 'absolute', left: COL_LEFT[col], top: row * ROW_H, width: CANVAS_W, height: ROW_H }}
      />
      <div
        style={{
          position: 'absolute',
          left: COL_LEFT[col],
          top: row * ROW_H + 12,
          width: CANVAS_W,
          textAlign: 'center',
          fontFamily: FONT,
          fontWeight: 700,
          fontSize: 20,
          lineHeight: '26px',
          color: '#000',
          whiteSpace: 'nowrap',
        }}
      >
        {titles[idx]}
      </div>
    </>
  );
}

export default function App() {
  return (
    <div
      style={{
        position: 'absolute',
        left: 0,
        top: 0,
        width: 1253,
        height: 1790,
        overflow: 'hidden',
        background: '#fff',
        fontFamily: FONT,
      }}
    >
      {titles.map((_, i) => (
        <Panel key={i} idx={i} />
      ))}
      <div
        style={{
          position: 'absolute',
          left: 27 - 60,
          top: 855 - 15,
          width: 120,
          height: 30,
          lineHeight: '30px',
          textAlign: 'center',
          transform: 'rotate(-90deg)',
          fontWeight: 700,
          fontSize: 22,
          color: '#000',
        }}
      >
        cM/Mb
      </div>
      <div
        style={{
          position: 'absolute',
          left: 455,
          top: 1771 - 15,
          width: 400,
          height: 30,
          lineHeight: '30px',
          textAlign: 'center',
          fontWeight: 700,
          fontSize: 24,
          color: '#000',
        }}
      >
        Length of Chromosome (Mb)
      </div>
    </div>
  );
}
